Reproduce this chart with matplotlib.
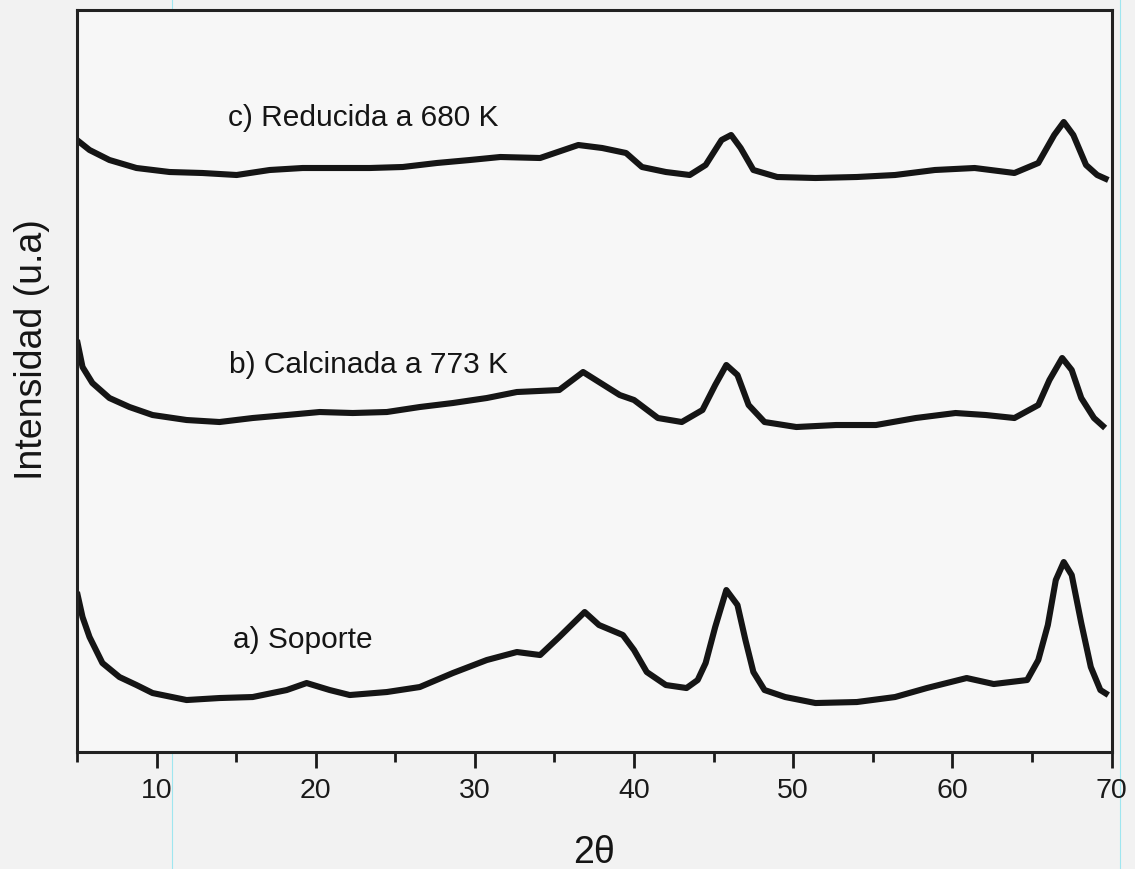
import matplotlib
matplotlib.use('Agg')
import matplotlib.pyplot as plt
from matplotlib.ticker import MultipleLocator
from matplotlib.lines import Line2D

plt.rcParams['font.family'] = ['Liberation Sans', 'DejaVu Sans']

# a) Soporte
tt_a = [5.0, 5.35, 5.79, 6.6, 7.67, 8.74, 9.75, 11.89, 13.96, 16.04, 18.18, 19.43,
        20.88, 22.14, 24.47, 26.54, 28.62, 30.75, 32.64, 34.1, 35.3, 36.9, 37.8,
        39.3, 40.0, 40.8, 42.0, 43.3, 44.0, 44.5, 45.1, 45.8, 46.5, 47.0, 47.5,
        48.2, 49.5, 51.4, 54.0, 56.4, 58.4, 60.9, 62.6, 64.7, 65.4, 66.0, 66.5,
        67.0, 67.5, 68.1, 68.7, 69.3, 69.8]
int_a = [160, 135, 115, 89, 75, 67, 59, 52, 54, 55, 62, 69,
         62, 57, 60, 65, 79, 92, 100, 97, 115, 140, 127,
         117, 102, 80, 67, 64, 72, 89, 125, 162, 147, 112, 80,
         62, 55, 49, 50, 55, 64, 74, 68, 72, 92, 127, 172,
         190, 177, 129, 85, 62, 57]

# b) Calcinada a 773 K
tt_b = [5.0, 5.35, 5.97, 7.04, 8.3, 9.75, 11.89, 13.96, 16.04, 18.18, 20.25, 22.33,
        24.47, 26.54, 28.62, 30.75, 32.64, 35.3, 36.8, 37.8, 39.1, 40.0, 41.5,
        43.0, 44.3, 45.1, 45.8, 46.5, 47.2, 48.2, 50.2, 52.7, 55.2, 57.7, 60.2,
        62.1, 63.9, 65.4, 66.1, 66.9, 67.5, 68.1, 68.9, 69.6]
int_b = [412, 385, 369, 354, 345, 337, 332, 330, 334, 337, 340, 339,
         340, 345, 349, 354, 360, 362, 380, 370, 357, 352, 334,
         330, 342, 367, 387, 377, 347, 330, 325, 327, 327, 334, 339,
         337, 334, 347, 372, 394, 382, 354, 334, 324]

# c) Reducida a 680 K
tt_c = [5.0, 5.79, 7.04, 8.74, 10.82, 12.89, 15.03, 17.11, 19.18, 21.32, 23.4,
        25.47, 27.61, 29.69, 31.6, 34.1, 36.5, 38.0, 39.5, 40.5, 42.0, 43.5,
        44.5, 45.5, 46.1, 46.7, 47.5, 49.0, 51.4, 54.0, 56.4, 58.9, 61.4, 63.9,
        65.4, 66.4, 67.0, 67.6, 68.4, 69.1, 69.8]
int_c = [612, 602, 592, 584, 580, 579, 577, 582, 584, 584, 584,
         585, 589, 592, 595, 594, 607, 604, 599, 585, 580, 577,
         587, 612, 617, 604, 582, 575, 574, 575, 577, 582, 584, 579,
         589, 617, 630, 617, 587, 577, 572]

labels = ['a) Soporte', 'b) Calcinada a 773 K', 'c) Reducida a 680 K']
label_pos = [(14.78, 112), (14.53, 387), (14.47, 634)]

fig = plt.figure(figsize=(11.35, 8.69), dpi=100, facecolor='#f2f2f2')
ax = fig.add_axes([0.0678, 0.1346, 0.9115, 0.8539])
ax.set_facecolor('#f7f7f7')

for tt, it in [(tt_a, int_a), (tt_b, int_b), (tt_c, int_c)]:
    ax.plot(tt, it, color='#151515', lw=4.4, solid_joinstyle='round',
            solid_capstyle='butt')

for txt, (px, py) in zip(labels, label_pos):
    ax.text(px, py, txt, fontsize=21.5, color='#151515', va='center', ha='left')

ax.set_xlim(5, 70)
ax.set_ylim(0, 742)
ax.set_yticks([])
ax.xaxis.set_major_locator(MultipleLocator(10))
ax.xaxis.set_minor_locator(MultipleLocator(5))
ax.tick_params(axis='x', which='major', direction='out', length=11.5, width=2.0,
               labelsize=20.5, pad=7, colors='#1a1a1a')
ax.tick_params(axis='x', which='minor', direction='out', length=7, width=2.0,
               colors='#1a1a1a')
for s in ax.spines.values():
    s.set_linewidth(2.2)
    s.set_color('#222222')

ax.set_xlabel('2θ', fontsize=27, color='#151515', va='center')
ax.xaxis.set_label_coords(0.5, -0.136)
ax.set_ylabel('Intensidad (u.a)', fontsize=27, color='#151515', va='center')
ax.yaxis.set_label_coords(-0.0435, 0.542)

# faint scanner lines
for xf in [172 / 1135, 1120 / 1135]:
    fig.add_artist(Line2D([xf, xf], [0, 1], transform=fig.transFigure,
                          color='#9fe6f0', lw=0.8, zorder=0))

fig.savefig('out.png', dpi=100, facecolor=fig.get_facecolor())
